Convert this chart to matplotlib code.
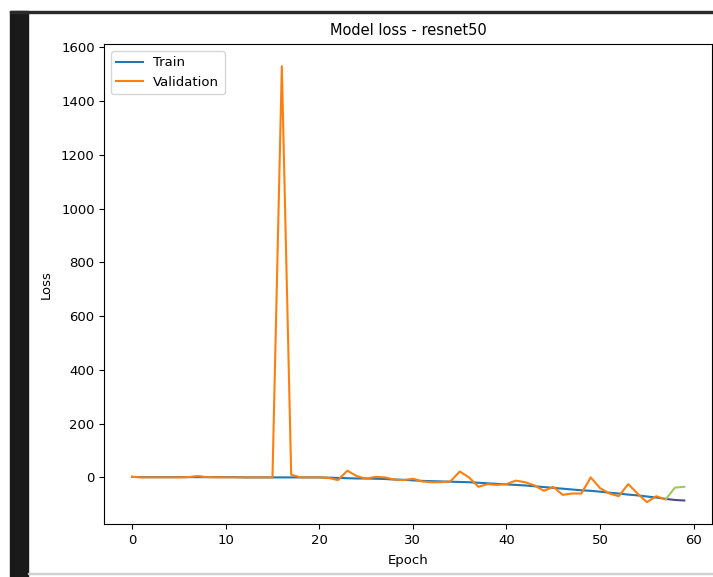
import matplotlib

matplotlib.use("Agg")
import matplotlib.pyplot as plt
from matplotlib.patches import Rectangle

epochs = list(range(60))

train_loss = [2, 1, 1, 1, 1, 1, 1, 1, 1, 1,
              1, 1, 0, 0, 0, 0, 0, 0, 0, 0,
              0, -1, -2, -3, -4, -4, -5, -6, -8, -9,
              -11, -13, -14, -15, -16, -17, -18, -20, -22, -24,
              -26, -28, -30, -33, -36, -39, -42, -45, -48, -50,
              -53, -57, -60, -64, -67, -71, -75, -80, -84, -86]

val_loss = [2, 0, 0, 0, 0, 0, 1, 5, 1, 0,
            0, 0, 0, 0, 0, 0, 1530, 10, 0, 0,
            0, -2, -10, 25, 5, -5, 2, 0, -8, -10,
            -5, -15, -18, -18, -15, 22, 0, -35, -25, -28,
            -25, -12, -18, -30, -50, -35, -65, -60, -60, 0,
            -40, -60, -70, -25, -60, -92, -70, -82, -38, -35]

# last few epochs show up in different colours in the screenshot
split = 57

fig = plt.figure(figsize=(7.13, 5.77), dpi=100)
plt.rcParams["font.size"] = 9.5

# screenshot frame: dark bar on the left, thin rules top and bottom
fig.patches.append(Rectangle((10, 0), 18, 566, transform=None, color="#1a1a1a", zorder=0))
fig.patches.append(Rectangle((10, 564), 703, 2, transform=None, color="#2a2a2a", zorder=0))
fig.patches.append(Rectangle((28, 3), 685, 1, transform=None, color="#d0d0d0", zorder=0))

ax = fig.add_axes([0.1465, 0.092, 0.852, 0.831])
ax.plot(epochs[:split + 1], train_loss[:split + 1], color="#1f77b4", label="Train")
ax.plot(epochs[:split + 1], val_loss[:split + 1], color="#ff7f0e", label="Validation")
ax.plot(epochs[split:], train_loss[split:], color="#4f4a8e")
ax.plot(epochs[split:], val_loss[split:], color="#a3c85a")

ax.set_title("Model loss - resnet50", fontsize=10.5, pad=7)
ax.set_xlabel("Epoch", labelpad=5)
ax.set_ylabel("Loss", labelpad=6)
ax.tick_params(labelsize=9.5)
ax.legend(loc="upper left", fontsize=9.5)

fig.savefig("out.png", dpi=100)
